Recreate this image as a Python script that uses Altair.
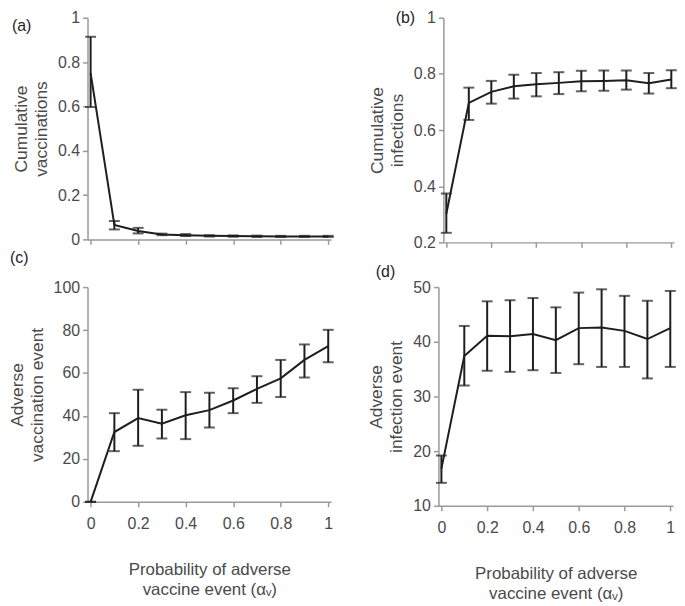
import altair as alt
import pandas as pd

alpha = [0.0, 0.1, 0.2, 0.3, 0.4, 0.5, 0.6, 0.7, 0.8, 0.9, 1.0]
x_ticks = [0, 0.2, 0.4, 0.6, 0.8, 1.0]

# (a) Cumulative vaccinations
vacc_mean = [0.75, 0.065, 0.038, 0.022, 0.019, 0.016, 0.015, 0.014, 0.013, 0.013, 0.013]
vacc_lo = [0.597, 0.045, 0.027, 0.019, 0.015, 0.013, 0.012, 0.011, 0.011, 0.011, 0.011]
vacc_hi = [0.914, 0.083, 0.052, 0.026, 0.024, 0.019, 0.018, 0.017, 0.016, 0.016, 0.016]

# (b) Cumulative infections
inf_mean = [0.302, 0.697, 0.736, 0.756, 0.763, 0.768, 0.774, 0.775, 0.777, 0.767, 0.780]
inf_lo = [0.234, 0.636, 0.694, 0.712, 0.720, 0.728, 0.738, 0.740, 0.744, 0.730, 0.749]
inf_hi = [0.374, 0.751, 0.775, 0.797, 0.803, 0.806, 0.811, 0.812, 0.812, 0.803, 0.813]

# (c) Adverse vaccination event
avacc_mean = [0.0, 32.5, 39.0, 36.4, 40.3, 42.7, 47.2, 52.6, 57.5, 66.1, 72.5]
avacc_lo = [0.0, 23.6, 26.1, 29.5, 29.2, 34.6, 41.3, 46.1, 48.8, 57.9, 65.0]
avacc_hi = [0.0, 41.3, 52.2, 42.9, 51.1, 50.8, 52.9, 58.5, 66.1, 73.3, 80.1]

# (d) Adverse infection event
ainf_mean = [16.8, 37.4, 41.1, 41.0, 41.4, 40.3, 42.5, 42.6, 42.0, 40.5, 42.5]
ainf_lo = [14.2, 32.0, 34.7, 34.5, 34.8, 34.3, 35.9, 35.4, 35.4, 33.3, 35.4]
ainf_hi = [19.2, 42.9, 47.4, 47.6, 48.0, 46.3, 49.0, 49.6, 48.4, 47.5, 49.3]

X_TITLE = ["Probability of adverse", "vaccine event (\u03b1\u1d65)"]
INK = "#1e1e1e"
FONT = "Liberation Sans"


def panel(mean, lo, hi, ydomain, yticks, ytitle, label, ldx, ldy, width, height, show_x):
    df = pd.DataFrame({"alpha": alpha, "mean": mean, "lo": lo, "hi": hi})
    x = alt.X(
        "alpha:Q",
        scale=alt.Scale(domain=[-0.013, 1.012], nice=False, zero=False),
        axis=alt.Axis(values=x_ticks, labels=show_x, format="~f",
                      title=X_TITLE if show_x else None,
                      labelPadding=9, titlePadding=30, titleFontSize=17),
    )
    y = alt.Y(
        "mean:Q",
        scale=alt.Scale(domain=ydomain, nice=False, zero=False),
        axis=alt.Axis(values=yticks, format="~f", title=ytitle, titlePadding=7,
                      labelPadding=3, titleFontSize=17.5),
    )
    base = alt.Chart(df)
    line = base.mark_line(color=INK, strokeWidth=2).encode(x=x, y=y)
    rule = base.mark_rule(color=INK, strokeWidth=2).encode(x="alpha:Q", y="lo:Q", y2="hi:Q")
    cap_lo = base.mark_tick(color=INK, orient="horizontal", size=11, thickness=2).encode(
        x="alpha:Q", y="lo:Q")
    cap_hi = base.mark_tick(color=INK, orient="horizontal", size=11, thickness=2).encode(
        x="alpha:Q", y="hi:Q")
    lab = alt.Chart(pd.DataFrame({"t": [label]})).mark_text(
        align="left", baseline="middle", fontSize=16, font=FONT, color=INK
    ).encode(text="t:N", x=alt.value(ldx), y=alt.value(ldy))
    return alt.layer(line, rule, cap_lo, cap_hi, lab).properties(width=width, height=height)


pa = panel(vacc_mean, vacc_lo, vacc_hi, [0, 1], [0, 0.2, 0.4, 0.6, 0.8, 1.0],
           ["Cumulative", "vaccinations"], "(a)", -76, 8, 245, 223, False)
pb = panel(inf_mean, inf_lo, inf_hi, [0.2, 1], [0.2, 0.4, 0.6, 0.8, 1.0],
           ["Cumulative", "infections"], "(b)", -48, 0, 232, 226, False)
pc = panel(avacc_mean, avacc_lo, avacc_hi, [0, 100], [0, 20, 40, 60, 80, 100],
           ["Adverse", "vaccination event"], "(c)", -78, -29, 245, 216, True)
pd_ = panel(ainf_mean, ainf_lo, ainf_hi, [10, 50], [10, 20, 30, 40, 50],
            ["Adverse", "infection event"], "(d)", -63, -15, 236, 220, True)

chart = alt.vconcat(
    alt.hconcat(pa, pb, spacing=34),
    alt.hconcat(pc, pd_, spacing=34),
    spacing=0,
).properties(padding=0).configure_view(stroke=None).configure_axis(
    grid=False,
    domainColor="#9a9a9a",
    domainWidth=1.5,
    tickColor="#9a9a9a",
    tickWidth=1.5,
    tickSize=5,
    labelColor="#4a4a4a",
    labelFont=FONT,
    labelFontSize=16,
    titleFont=FONT,
    titleFontWeight="normal",
    titleColor="#4a4a4a",
    titleLineHeight=20,
)

chart.save("out.html", embed_options={"renderer": "svg", "actions": False})
